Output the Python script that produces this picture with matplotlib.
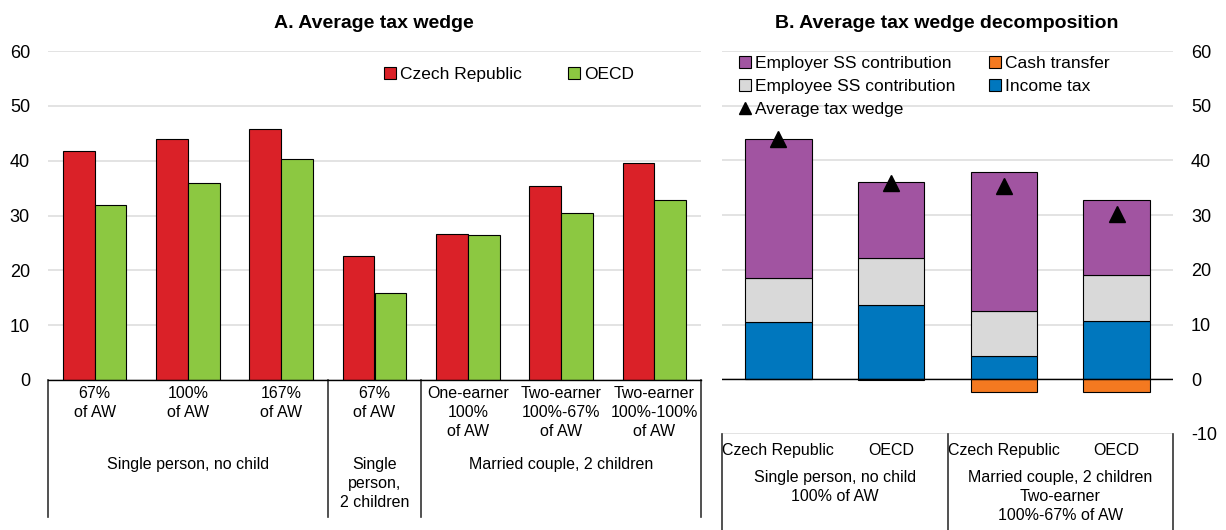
import matplotlib
matplotlib.use("Agg")
import matplotlib.pyplot as plt
from matplotlib.lines import Line2D
from matplotlib.patches import Patch
import numpy as np

plt.rcParams['font.family'] = ['Liberation Sans', 'DejaVu Sans']
plt.rcParams['axes.unicode_minus'] = False

# ---------------- Data ----------------
# Panel A
cat_labels_a = ["67%\nof AW", "100%\nof AW", "167%\nof AW", "67%\nof AW",
                "One-earner\n100%\nof AW", "Two-earner\n100%-67%\nof AW",
                "Two-earner\n100%-100%\nof AW"]
group_labels_a = ["Single person, no child", "Single\nperson,\n2 children",
                  "Married couple, 2 children"]
group_centers_a = [1, 3, 5]
group_bounds_a = [-0.5, 2.5, 3.5, 6.5]
czech_a = [41.7, 44.0, 45.8, 22.7, 26.6, 35.4, 39.6]
oecd_a = [32.0, 36.0, 40.3, 15.9, 26.4, 30.5, 32.9]

# Panel B
cat_labels_b = ["Czech Republic", "OECD", "Czech Republic", "OECD"]
group_labels_b = ["Single person, no child\n100% of AW",
                  "Married couple, 2 children\nTwo-earner\n100%-67% of AW"]
group_centers_b = [0.5, 2.5]
group_bounds_b = [-0.5, 1.5, 3.5]
income_tax = [10.4, 13.6, 4.3, 10.7]
employee_ss = [8.2, 8.5, 8.1, 8.4]
employer_ss = [25.3, 13.9, 25.4, 13.6]
cash_transfer = [0.0, -0.1, -2.4, -2.4]
avg_wedge = [43.9, 35.9, 35.4, 30.3]

# ---------------- Style ----------------
RED = "#DA2128"
GREEN = "#8CC841"
PURPLE = "#A154A1"
LGRAY = "#D9D9D9"
BLUE = "#0077BE"
ORANGE = "#F47920"
GRID = "#E0E0E0"

W, H = 1226, 530
fig = plt.figure(figsize=(W / 100, H / 100), dpi=100)


def px_box(left, top, right, bottom):
    return [left / W, (H - bottom) / H, (right - left) / W, (bottom - top) / H]


# ---------------- Panel A ----------------
axA = fig.add_axes(px_box(48, 51, 701, 380))
x = np.arange(len(czech_a))
bw = 0.34
axA.bar(x - bw / 2, czech_a, bw, color=RED, edgecolor="black", linewidth=0.8,
        label="Czech Republic", zorder=3)
axA.bar(x + bw / 2, oecd_a, bw, color=GREEN, edgecolor="black", linewidth=0.8,
        label="OECD", zorder=3)
axA.set_xlim(-0.5, 6.5)
axA.set_ylim(0, 60)
axA.set_yticks(range(0, 61, 10))
axA.yaxis.grid(True, color=GRID, linewidth=1.3, zorder=0)
axA.set_axisbelow(True)
axA.set_xticks([])
axA.tick_params(axis="y", length=0, labelsize=13, pad=13)
for s in ["top", "right", "left"]:
    axA.spines[s].set_visible(False)
axA.spines["bottom"].set_color("black")
axA.spines["bottom"].set_linewidth(1.0)
axA.spines["bottom"].set_zorder(4)

hA = 329.0


def ay(py):
    return (380 - py) / hA


LS = 1.32
trA = axA.get_xaxis_transform()
for xi, lab in zip(x, cat_labels_a):
    axA.text(xi, ay(386), lab, transform=trA, ha="center", va="top",
             fontsize=11.5, linespacing=LS)
for xc, lab in zip(group_centers_a, group_labels_a):
    axA.text(xc, ay(457), lab, transform=trA, ha="center", va="top",
             fontsize=11.5, linespacing=LS)
for xb in group_bounds_a:
    axA.add_line(Line2D([xb, xb], [0, ay(517)], transform=trA, color="#333333",
                        linewidth=1.2, clip_on=False))

legA = axA.legend(loc="upper left", bbox_to_anchor=(336 / 653, 1 - 16 / 329),
                  ncol=2, frameon=False, fontsize=12.5, handlelength=0.7,
                  handleheight=0.7, handletextpad=0.25, columnspacing=2.6,
                  borderaxespad=0, borderpad=0)

# ---------------- Panel B ----------------
axB = fig.add_axes(px_box(722, 51, 1173, 434))
xb_ = np.arange(len(income_tax))
bwB = 0.59
axB.bar(xb_, income_tax, bwB, color=BLUE, edgecolor="black", linewidth=0.8, zorder=3)
axB.bar(xb_, employee_ss, bwB, bottom=income_tax, color=LGRAY, edgecolor="black",
        linewidth=0.8, zorder=3)
bot2 = [a + b for a, b in zip(income_tax, employee_ss)]
axB.bar(xb_, employer_ss, bwB, bottom=bot2, color=PURPLE, edgecolor="black",
        linewidth=0.8, zorder=3)
axB.bar(xb_, cash_transfer, bwB, color=ORANGE, edgecolor="black", linewidth=0.8,
        zorder=3)
axB.plot(xb_, avg_wedge, linestyle="none", marker="^", markersize=12,
         color="black", zorder=5)
axB.axhline(0, color="black", linewidth=1.0, zorder=4)
axB.set_xlim(-0.5, 3.5)
axB.set_ylim(-10, 60)
axB.set_yticks(range(-10, 61, 10))
axB.yaxis.grid(True, color=GRID, linewidth=1.3, zorder=0)
axB.set_axisbelow(True)
axB.set_xticks([])
axB.yaxis.tick_right()
axB.tick_params(axis="y", length=0, labelsize=13, pad=13)
for s in ["top", "right", "left", "bottom"]:
    axB.spines[s].set_visible(False)

hB = 383.0


def by(py):
    return (434 - py) / hB


trB = axB.get_xaxis_transform()
for xi, lab in zip(xb_, cat_labels_b):
    axB.text(xi, by(443), lab, transform=trB, ha="center", va="top", fontsize=11.5)
for xc, lab in zip(group_centers_b, group_labels_b):
    axB.text(xc, by(470), lab, transform=trB, ha="center", va="top",
             fontsize=11.5, linespacing=LS)
for xbd in group_bounds_b:
    axB.add_line(Line2D([xbd, xbd], [0, by(530)], transform=trB, color="#333333",
                        linewidth=1.2, clip_on=False))

handles = [Patch(facecolor=PURPLE, edgecolor="black", linewidth=0.8),
           Patch(facecolor=LGRAY, edgecolor="black", linewidth=0.8),
           Line2D([], [], linestyle="none", marker="^", markersize=8, color="black"),
           Patch(facecolor=ORANGE, edgecolor="black", linewidth=0.8),
           Patch(facecolor=BLUE, edgecolor="black", linewidth=0.8)]
labels = ["Employer SS contribution", "Employee SS contribution", "Average tax wedge",
          "Cash transfer", "Income tax"]
axB.legend(handles, labels, loc="upper left", bbox_to_anchor=(17 / 451, 1 - 5 / 383),
           ncol=2, frameon=False, fontsize=12.5, handlelength=0.7,
           handleheight=0.7, handletextpad=0.25, columnspacing=1.9,
           labelspacing=0.45, borderaxespad=0, borderpad=0)

# ---------------- Titles ----------------
fig.text(374 / W, 1 - 23 / H, "A. Average tax wedge", ha="center", va="center",
         fontsize=14, fontweight="bold")
fig.text(947 / W, 1 - 24 / H, "B. Average tax wedge decomposition", ha="center",
         va="center", fontsize=14, fontweight="bold")

fig.savefig("out.png", dpi=100)
